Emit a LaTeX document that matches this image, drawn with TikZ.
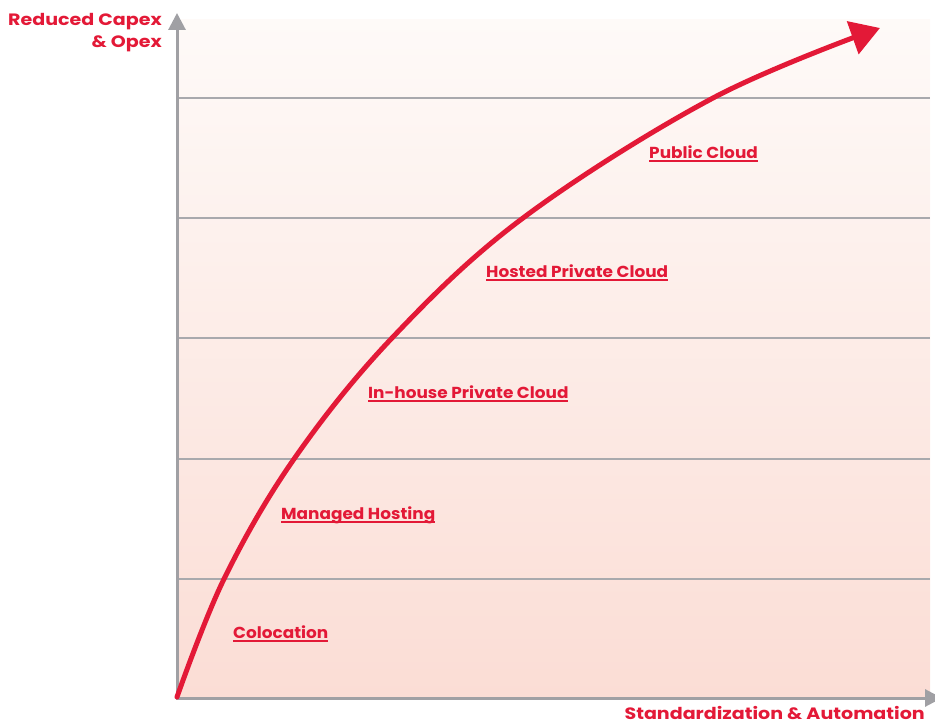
\documentclass[tikz,border=0pt]{standalone}
\usepackage{fontspec}
\setmainfont{Poppins}
\newfontfamily\stagefont{Poppins}[FakeStretch=1.06]
\newfontfamily\axisfont{Poppins}[FakeStretch=1.16]
\usetikzlibrary{arrows.meta}
\definecolor{brandred}{HTML}{E31937}
\definecolor{axisgray}{HTML}{A0A0A4}
\definecolor{gridgray}{HTML}{A9A9AD}
\definecolor{bgbottom}{HTML}{FBDDD5}
\definecolor{bgtop}{HTML}{FEFAF8}
% underlined text: rule drawn in the current text colour
\newcommand{\redline}[1]{\setbox0\hbox{#1}\rlap{\rule[-3.2pt]{\wd0}{1.2pt}}\box0}
\tikzset{
  axisline/.style={draw=axisgray, line width=3bp, -{Triangle[length=17bp, width=17bp]}},
  gridline/.style={draw=gridgray, line width=1.8bp},
  curveline/.style={draw=brandred, line width=5bp, -{Triangle[length=29bp, width=34bp]}},
  stage/.style={text=brandred, font=\stagefont\bfseries\fontsize{16}{18}\selectfont, anchor=base west, inner sep=0pt},
  axislabel/.style={text=brandred, font=\axisfont\bfseries\fontsize{16.5}{22}\selectfont, inner sep=0pt, align=right}
}
\begin{document}
\begin{tikzpicture}[x=1bp, y=-1bp]
  \useasboundingbox (0,0) rectangle (935,723);
  % shaded backdrop of the chart area
  \shade[top color=bgtop, bottom color=bgbottom] (178,20) rectangle (930,697);
  % band separators
  \foreach \yy in {98,218,338,459,579}
    \draw[gridline] (178,\yy) -- (930,\yy);
  % axes
  \coordinate (origin) at (177,698);
  \coordinate (ytop) at (177,13);
  \coordinate (xend) at (942,698);
  \draw[axisline] (177,699.5) -- (ytop);
  \draw[axisline] (175.5,698) -- (xend);
  % growth curve
  \coordinate (c0) at (177,697);
  \coordinate (c1) at (224,579);
  \coordinate (c2) at (294,459);
  \coordinate (c3) at (392,338);
  \coordinate (c4) at (523,218);
  \coordinate (c5) at (713,98);
  \coordinate (c6) at (880,28);
  \draw[curveline, line cap=round] plot[smooth, tension=0.6] coordinates {(c0) (c1) (c2) (c3) (c4) (c5) (c6)};
  % stage labels
  \node[stage] (colo) at (233,638.5) {\redline{Colocation}};
  \node[stage] (managed) at (281,519.5) {\redline{Managed Hosting}};
  \node[stage] (inhouse) at (368,398.5) {\redline{In-house Private Cloud}};
  \node[stage] (hosted) at (486,277.5) {\redline{Hosted Private Cloud}};
  \node[stage] (public) at (649,158.5) {\redline{Public Cloud}};
  % axis labels
  \node[axislabel, anchor=north east] (ylabel) at (162,13) {Reduced Capex\\\& Opex};
  \node[axislabel, anchor=base east] (xlabel) at (925,719) {Standardization \& Automation};
\end{tikzpicture}
\end{document}
